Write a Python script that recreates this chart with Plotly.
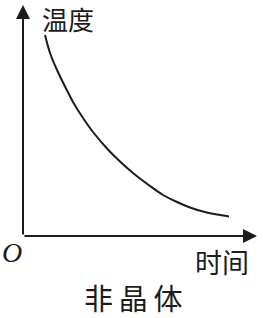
import plotly.graph_objects as go

# Data (arbitrary units)
time_vals = [22, 27, 34, 42, 50, 60, 70, 84, 97, 110, 127, 140, 154, 167, 180, 194, 206]
temp_vals = [201, 183, 166, 149.5, 134, 118, 104, 87.5, 74.5, 63, 50, 41, 34, 28.5, 24.5, 21.5, 19.5]
x_label = "时间"
y_label = "温度"
title = "非\u2009晶\u2009体"
origin_label = "O"

X_MAX = 234
Y_MAX = 231
W, H = 263, 318

fig = go.Figure()
fig.add_trace(go.Scatter(
    x=time_vals, y=temp_vals, mode="lines",
    line=dict(color="#1c1c1c", width=2, shape="spline", smoothing=0.8),
    hoverinfo="skip", showlegend=False,
))

ink = "#1c1c1c"
# Axis arrows
fig.add_annotation(x=X_MAX, y=0, ax=0, ay=0, xref="x", yref="y", axref="x", ayref="y",
                   text="", showarrow=True, arrowhead=2, arrowsize=1.4, arrowwidth=2, arrowcolor=ink)
fig.add_annotation(x=0, y=Y_MAX, ax=0, ay=0, xref="x", yref="y", axref="x", ayref="y",
                   text="", showarrow=True, arrowhead=2, arrowsize=1.4, arrowwidth=2, arrowcolor=ink)

cjk = "Noto Sans CJK SC"
def px(x, y):
    return x / W, 1 - y / H

tx, ty = px(68, 19)
fig.add_annotation(x=tx, y=ty, xref="paper", yref="paper", text=y_label, showarrow=False,
                   font=dict(family=cjk, size=26, color=ink), xanchor="center", yanchor="middle")
tx, ty = px(222, 261)
fig.add_annotation(x=tx, y=ty, xref="paper", yref="paper", text=x_label, showarrow=False,
                   font=dict(family=cjk, size=27, color=ink), xanchor="center", yanchor="middle")
tx, ty = px(133, 297)
fig.add_annotation(x=tx, y=ty, xref="paper", yref="paper", text=title, showarrow=False,
                   font=dict(family=cjk, size=29, color=ink), xanchor="center", yanchor="middle")
tx, ty = px(12, 252)
fig.add_annotation(x=tx, y=ty, xref="paper", yref="paper", text="<i>" + origin_label + "</i>", showarrow=False,
                   font=dict(family="Liberation Serif", size=28, color=ink), xanchor="center", yanchor="middle")

fig.update_layout(
    width=W, height=H, margin=dict(l=0, r=0, t=0, b=0),
    paper_bgcolor="white", plot_bgcolor="white",
    xaxis=dict(domain=[23 / W, 257 / W], range=[0, X_MAX], visible=False, fixedrange=True),
    yaxis=dict(domain=[(H - 236) / H, (H - 5) / H], range=[0, Y_MAX], visible=False, fixedrange=True),
)
fig.write_html("out.html")
